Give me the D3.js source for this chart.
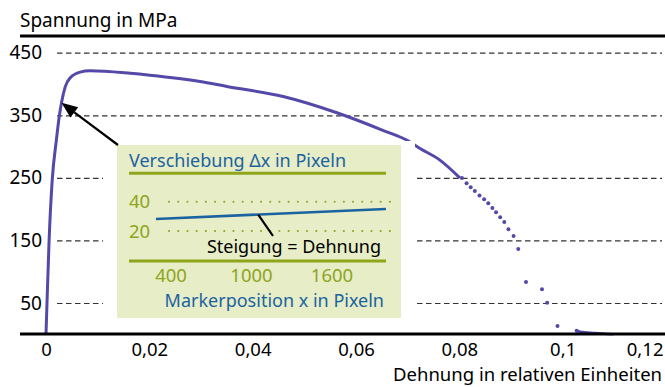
<!DOCTYPE html>
<html>
<head>
<meta charset="utf-8">
<script src="https://cdn.jsdelivr.net/npm/d3@7"></script>
<style>
  body { margin: 0; background: #fff; }
  text { font-family: "Noto Sans", sans-serif; }
</style>
</head>
<body>
<script>
// stress-strain curve, dense measured part (drawn as line)
const strain = [0, 0.0002, 0.0006, 0.0012, 0.0020, 0.0026, 0.0030, 0.0037, 0.0047, 0.0066, 0.0085,
  0.0163, 0.0201, 0.0298, 0.0350, 0.0459, 0.0563, 0.0652, 0.0699, 0.0724, 0.0763, 0.0801];
const stress = [0, 52, 150, 246, 310, 350, 370, 395, 410, 419, 421,
  417, 414, 404, 396, 380, 354, 326, 310, 297, 278, 250];

// sparse points after necking (drawn as dots)
const dotStrain = [0.0805, 0.0814, 0.0822, 0.0830, 0.0839, 0.0848, 0.0856, 0.0864, 0.0871, 0.0879,
  0.0887, 0.0895, 0.0905, 0.0914, 0.0929, 0.0960, 0.0970, 0.0990, 0.1027];
const dotStress = [249.7, 241.2, 234.8, 228.9, 222, 215.7, 209.3, 202, 195, 186.9,
  179.4, 167.7, 156.9, 136.3, 83.5, 72, 50.6, 13.3, 5.8];

// tail after fracture
const tailStrain = [0.1027, 0.1034, 0.1063, 0.1098];
const tailStress = [5.8, 4.2, 2, 0];

const yTicks = [50, 150, 250, 350, 450];
const xTicks = [0, 0.02, 0.04, 0.06, 0.08, 0.1, 0.12];

// inset: marker displacement vs position
const insetXTicks = [400, 1000, 1600];
const insetYTicks = [20, 40];
const markerPos = [288, 2002];
const shift = [28.2, 35.0];

const width = 665, height = 387;
const curveColor = "#5249a8";
const green = "#8ea51c";
const blue = "#1b63a0";

const svg = d3.select("body").append("svg")
  .attr("width", width)
  .attr("height", height);

const x = d3.scaleLinear().domain([0, 0.12]).range([46, 666]);
const y = d3.scaleLinear().domain([0, 450]).range([334.3, 52.7]);

// y title + top rule
svg.append("text")
  .attr("x", 20).attr("y", 27)
  .attr("font-size", 19)
  .text("Spannung in MPa");
svg.append("line")
  .attr("x1", 20).attr("x2", 665)
  .attr("y1", 36).attr("y2", 36)
  .attr("stroke", "#000").attr("stroke-width", 3);

// y axis with dashed grid
const yAxis = svg.append("g")
  .attr("transform", "translate(57,0)")
  .call(d3.axisLeft(y).tickValues(yTicks).tickSize(-605).tickPadding(15));
yAxis.select(".domain").remove();
yAxis.selectAll(".tick line")
  .attr("stroke", "#333")
  .attr("stroke-width", 1.2)
  .attr("stroke-dasharray", "5.5,3.5");
yAxis.selectAll(".tick text")
  .attr("font-size", 19)
  .attr("font-family", "Noto Sans")
  .attr("fill", "#000");

// x axis
const fmt = d => d === 0 ? "0" : String(d).replace(".", ",");
const xAxis = svg.append("g")
  .attr("transform", "translate(0,334)")
  .call(d3.axisBottom(x).tickValues(xTicks).tickSize(0).tickPadding(9).tickFormat(fmt));
xAxis.select(".domain").remove();
xAxis.selectAll(".tick text")
  .attr("font-size", 18.5)
  .attr("font-family", "Noto Sans")
  .attr("fill", "#000");
xAxis.selectAll(".tick text").filter(d => d === 0.12)
  .attr("text-anchor", "end")
  .attr("x", -3);

svg.append("text")
  .attr("x", 662).attr("y", 381.3)
  .attr("text-anchor", "end")
  .attr("font-size", 18.5)
  .text("Dehnung in relativen Einheiten");

// curve
const line = d3.line()
  .x(d => x(d[0]))
  .y(d => y(d[1]))
  .curve(d3.curveMonotoneX);

svg.append("path")
  .datum(d3.zip(strain, stress))
  .attr("d", line)
  .attr("fill", "none")
  .attr("stroke", curveColor)
  .attr("stroke-width", 3)
  .attr("stroke-linejoin", "round");

svg.append("path")
  .datum(d3.zip(tailStrain, tailStress))
  .attr("d", line)
  .attr("fill", "none")
  .attr("stroke", curveColor)
  .attr("stroke-width", 2.6);

svg.append("g")
  .selectAll("circle")
  .data(d3.zip(dotStrain, dotStress))
  .join("circle")
  .attr("cx", d => x(d[0]))
  .attr("cy", d => y(d[1]))
  .attr("r", 2)
  .attr("fill", curveColor);

// x axis line (on top of tail)
svg.append("line")
  .attr("x1", 20).attr("x2", 665)
  .attr("y1", 334).attr("y2", 334)
  .attr("stroke", "#000").attr("stroke-width", 3);

// inset
const box = {x0: 117, y0: 145, x1: 401, y1: 318};

svg.append("rect")
  .attr("x", box.x0 - 14).attr("y", box.y0 - 4)
  .attr("width", box.x1 - box.x0 + 28).attr("height", box.y1 - box.y0 + 17)
  .attr("fill", "#fff");

svg.append("rect")
  .attr("x", box.x0).attr("y", box.y0)
  .attr("width", box.x1 - box.x0).attr("height", box.y1 - box.y0)
  .attr("fill", "#e6edc7");

const ix = d3.scaleLinear().domain([400, 1600]).range([171, 332]);
const iy = d3.scaleLinear().domain([20, 40]).range([231, 201.7]);

const inset = svg.append("g");

inset.append("text")
  .attr("x", 129).attr("y", 166.7)
  .attr("font-size", 18)
  .attr("fill", blue)
  .text("Verschiebung \u0394x in Pixeln");

inset.selectAll("line.rule")
  .data([173.3, 261])
  .join("line")
  .attr("class", "rule")
  .attr("x1", 129).attr("x2", 386)
  .attr("y1", d => d).attr("y2", d => d)
  .attr("stroke", green).attr("stroke-width", 3);

inset.selectAll("line.dots")
  .data(insetYTicks)
  .join("line")
  .attr("class", "dots")
  .attr("x1", 169).attr("x2", 390)
  .attr("y1", d => iy(d)).attr("y2", d => iy(d))
  .attr("stroke", green)
  .attr("stroke-width", 2)
  .attr("stroke-linecap", "round")
  .attr("stroke-dasharray", "0.1,9.1");

inset.selectAll("text.ylab")
  .data(insetYTicks)
  .join("text")
  .attr("class", "ylab")
  .attr("x", 129).attr("y", d => iy(d))
  .attr("dy", "0.36em")
  .attr("font-size", 18.5)
  .attr("fill", green)
  .text(d => d);

inset.selectAll("text.xlab")
  .data(insetXTicks)
  .join("text")
  .attr("class", "xlab")
  .attr("x", d => ix(d)).attr("y", 281.5)
  .attr("text-anchor", "middle")
  .attr("font-size", 18.5)
  .attr("fill", green)
  .text(d => d);

inset.append("line")
  .attr("x1", ix(markerPos[0])).attr("y1", iy(shift[0]))
  .attr("x2", ix(markerPos[1])).attr("y2", iy(shift[1]))
  .attr("stroke", blue).attr("stroke-width", 2.6);

// pointer from line to slope label
const pAt = 1050;
const pShift = shift[0] + (shift[1] - shift[0]) * (pAt - markerPos[0]) / (markerPos[1] - markerPos[0]);
inset.append("line")
  .attr("x1", ix(pAt)).attr("y1", iy(pShift))
  .attr("x2", 273).attr("y2", 236)
  .attr("stroke", "#000").attr("stroke-width", 2.2);

inset.append("text")
  .attr("x", 381).attr("y", 253)
  .attr("text-anchor", "end")
  .attr("font-size", 18)
  .attr("fill", "#000")
  .text("Steigung = Dehnung");

inset.append("text")
  .attr("x", 384).attr("y", 306.5)
  .attr("text-anchor", "end")
  .attr("font-size", 18)
  .attr("fill", blue)
  .text("Markerposition x in Pixeln");

// arrow from inset corner to curve
const tip = [x(0.003), y(370)];
const tail = [box.x0 + 1, box.y0];
const ang = Math.atan2(tip[1] - tail[1], tip[0] - tail[0]);
const headLen = 16, headW = 6.5;
const base = [tip[0] - headLen * Math.cos(ang), tip[1] - headLen * Math.sin(ang)];
svg.append("line")
  .attr("x1", tail[0]).attr("y1", tail[1])
  .attr("x2", base[0]).attr("y2", base[1])
  .attr("stroke", "#000").attr("stroke-width", 2.2);
svg.append("path")
  .attr("d", d3.line()([
    tip,
    [base[0] + headW * Math.sin(ang), base[1] - headW * Math.cos(ang)],
    [base[0] - headW * Math.sin(ang), base[1] + headW * Math.cos(ang)]
  ]) + "Z")
  .attr("fill", "#000");
</script>
</body>
</html>
